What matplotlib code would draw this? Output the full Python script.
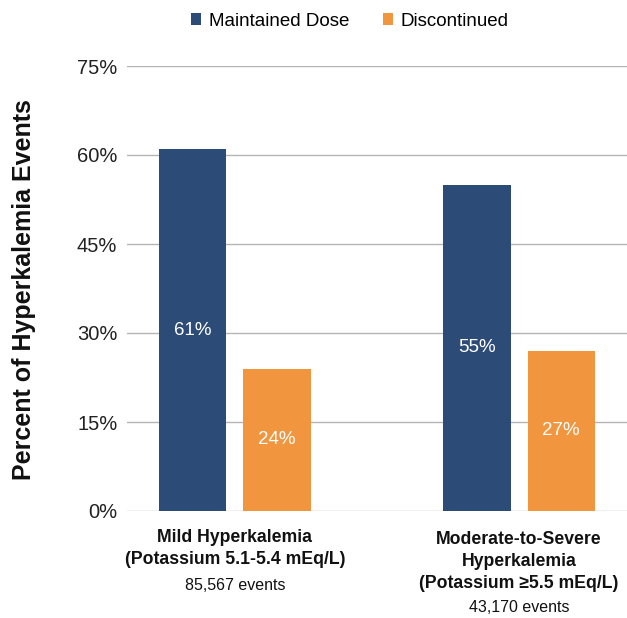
import matplotlib
matplotlib.use("Agg")
import matplotlib.pyplot as plt
from matplotlib.patches import Patch

plt.rcParams['font.family'] = ['Liberation Sans', 'DejaVu Sans']

series_names = ["Maintained Dose", "Discontinued"]
maintained = [61, 55]
discontinued = [24, 27]
cat_titles = [["Mild Hyperkalemia", "(Potassium 5.1-5.4 mEq/L)"],
              ["Moderate-to-Severe", "Hyperkalemia", "(Potassium \u22655.5 mEq/L)"]]
cat_events = ["85,567 events", "43,170 events"]
yticks = [0, 15, 30, 45, 60, 75]

navy = "#2c4b76"
orange = "#f1953f"

fig = plt.figure(figsize=(6.27, 6.18), dpi=100)
ax = fig.add_axes([127/627, 1-511/618, 500/627, (511-66)/618])

x = [0, 1]
w = 0.236
off = (w + 0.06) / 2
b1 = ax.bar([i - off for i in x], maintained, width=w, color=navy, zorder=3)
b2 = ax.bar([i + off for i in x], discontinued, width=w, color=orange, zorder=3)

for bars, vals in ((b1, maintained), (b2, discontinued)):
    for bar, v in zip(bars, vals):
        ax.text(bar.get_x() + bar.get_width()/2, v/2, f"{v}%", color="white",
                ha="center", va="center", fontsize=13.5)

ax.set_xlim(-0.38, 1.38)
ax.set_ylim(0, 75)
ax.set_yticks(yticks)
ax.set_yticklabels([f"{t}%" for t in yticks], fontsize=14.5, color="#222222")
ax.yaxis.grid(True, color="#b5b5b5", linewidth=1, zorder=0)
ax.set_xticks([])
ax.tick_params(axis='y', length=0, pad=7)
for s in ax.spines.values():
    s.set_visible(False)

fig.text(24/627, 1-290/618, "Percent of Hyperkalemia Events", rotation=90,
         fontsize=18, fontweight="bold", color="#111111", ha="center", va="center")

# category labels
trans = ax.get_xaxis_transform()
line_y = [[538, 560], [539, 561, 583]]
event_y = [586, 607]

def ax_y(ypix):
    return 1 - (ypix - 66) / 445

for i, (lines, ev) in enumerate(zip(cat_titles, cat_events)):
    for ln, yp in zip(lines, line_y[i]):
        ax.text(x[i], ax_y(yp), ln, transform=trans, ha="center",
                va="center", fontsize=12.7, fontweight="bold", color="#111111")
    ax.text(x[i], ax_y(event_y[i]), ev, transform=trans, ha="center",
            va="center", fontsize=11.5, color="#111111")

handles = [Patch(facecolor=navy), Patch(facecolor=orange)]
fig.legend(handles, series_names, loc="center", bbox_to_anchor=(350/627, 1-21/618),
           ncol=2, frameon=False, fontsize=13.5, handlelength=0.55, handleheight=0.55,
           handletextpad=0.4, columnspacing=1.8)

fig.savefig("out.png", dpi=100)
